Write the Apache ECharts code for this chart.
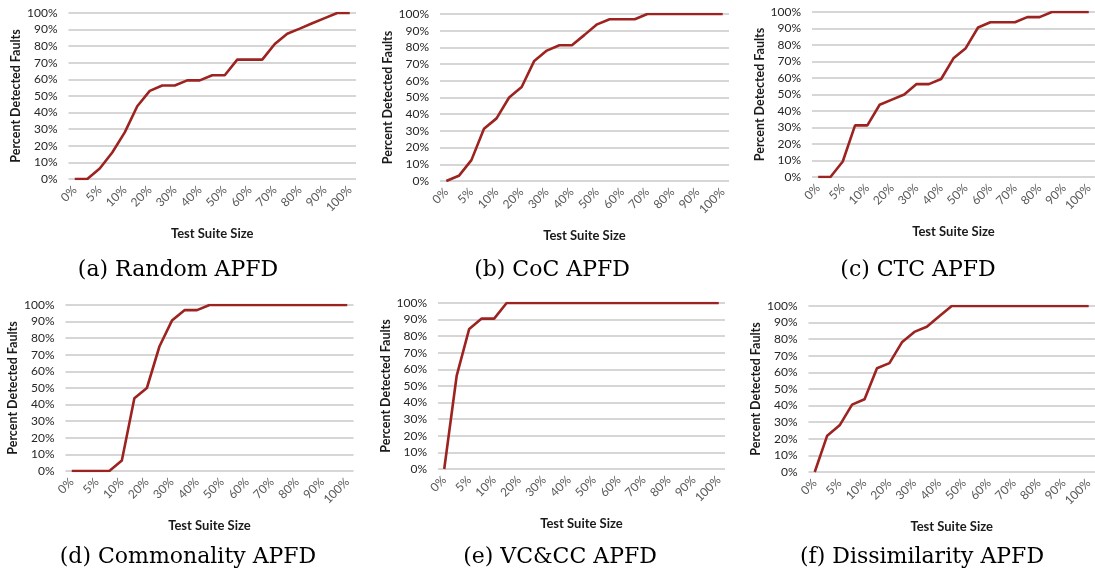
<!DOCTYPE html>
<html>
<head>
<meta charset="utf-8">
<script src="https://cdn.jsdelivr.net/npm/echarts/dist/echarts.min.js"></script>
<style>
html,body{margin:0;padding:0;background:#fff;}
#chart{width:1095px;height:571px;}
</style>
</head>
<body>
<div id="chart"></div>
<script>
// X categories (only every other one is labelled in the reference)
const categories = ['0%','3%','5%','8%','10%','15%','20%','25%','30%','35%','40%','45%','50%','55%','60%','65%','70%','75%','80%','85%','90%','95%','100%'];

// Percent detected faults for each technique
const randomAPFD = [0,0,6.3,16,28.1,43.8,53.1,56.3,56.3,59.4,59.4,62.5,62.5,71.9,71.9,71.9,81.3,87.5,90.6,93.8,96.9,100,100];
const cocAPFD = [0,3.1,12.5,31.3,37.5,50,56.3,71.9,78.1,81.3,81.3,87.5,93.8,96.9,96.9,96.9,100,100,100,100,100,100,100];
const ctcAPFD = [0,0,9.4,31.3,31.3,43.8,46.9,50,56.3,56.3,59.4,71.9,78.1,90.6,93.8,93.8,93.8,96.9,96.9,100,100,100,100];
const commonalityAPFD = [0,0,0,0,6.3,43.8,50,75,90.6,96.9,96.9,100,100,100,100,100,100,100,100,100,100,100,100];
const vcccAPFD = [0,56.3,84.4,90.6,90.6,100,100,100,100,100,100,100,100,100,100,100,100,100,100,100,100,100,100];
const dissimilarityAPFD = [0,21.9,28.1,40.6,43.8,62.5,65.6,78.1,84.4,87.5,93.8,100,100,100,100,100,100,100,100,100,100,100,100];

const captions = ['(a) Random APFD','(b) CoC APFD','(c) CTC APFD','(d) Commonality APFD','(e) VC&CC APFD','(f) Dissimilarity APFD'];
const seriesData = [randomAPFD, cocAPFD, ctcAPFD, commonalityAPFD, vcccAPFD, dissimilarityAPFD];
const yTickFormat = '{value}%';
const yAxisTitle = 'Percent Detected Faults';
const xAxisTitle = 'Test Suite Size';

// layout
const grids = [
  {left:68.5, top:13, width:287.5, height:166},
  {left:440, top:14, width:289, height:167},
  {left:812, top:12, width:289, height:165},
  {left:65.5, top:305, width:288, height:166},
  {left:438, top:303, width:287, height:166},
  {left:808.5, top:306, width:288.5, height:166}
];
const capPos = [[178,270],[552,270],[918,270],[188,557],[560,557],[922,557]];

const FONT = 'Lato';
const option = {
  animation:false,
  backgroundColor:'#fff',
  grid: grids.map(g => Object.assign({containLabel:false}, g)),
  xAxis: grids.map((g,i) => ({
    type:'category', gridIndex:i, data:categories, boundaryGap:true,
    axisLine:{show:false}, axisTick:{show:false},
    axisLabel:{interval:1, rotate:45, margin:9, color:'#595959', fontFamily:FONT, fontSize:12},
    name:xAxisTitle, nameLocation:'middle', nameGap:48,
    nameTextStyle:{fontFamily:FONT, fontWeight:'bold', fontSize:13, color:'#1a1a1a'}
  })),
  yAxis: grids.map((g,i) => ({
    type:'value', gridIndex:i, min:0, max:100, interval:10,
    axisLine:{show:false}, axisTick:{show:false},
    axisLabel:{formatter:yTickFormat, margin:11, color:'#262626', fontFamily:FONT, fontSize:12},
    splitLine:{show:true, lineStyle:{color:'#c8c8c8', width:1.5}},
    name:yAxisTitle, nameLocation:'middle', nameGap:46, nameRotate:90,
    nameTextStyle:{fontFamily:FONT, fontWeight:'bold', fontSize:12.5, color:'#1a1a1a'}
  })),
  series: seriesData.map((d,i) => ({
    type:'line', xAxisIndex:i, yAxisIndex:i, data:d, symbol:'none',
    lineStyle:{color:'#9c2320', width:2.6}, silent:true
  })),
  graphic: captions.map((t,i) => ({
    type:'text', x:capPos[i][0], y:capPos[i][1],
    style:{text:t, fill:'#000', font:'22px "DejaVu Serif"', align:'center', verticalAlign:'middle', textAlign:'center', textVerticalAlign:'middle'}
  }))
};
const chart = echarts.init(document.getElementById('chart'), null, {renderer:'canvas'});
chart.setOption(option);
</script>
</body>
</html>
